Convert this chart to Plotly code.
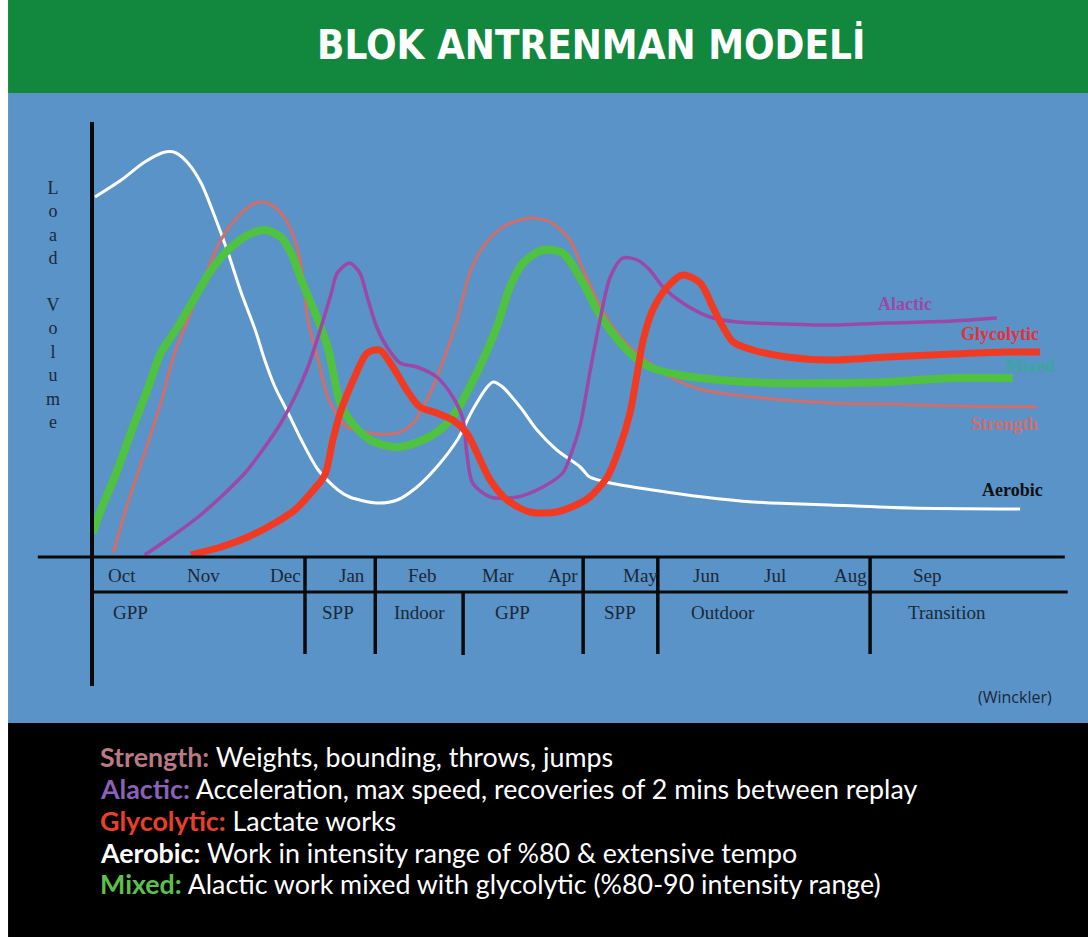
import plotly.graph_objects as go

# ---------------- data (x in months from season start, y in relative load volume) -------------
aerobic_x = [0.04, 0.40, 0.72, 1.00, 1.15, 1.31, 1.49, 1.68, 1.86, 2.04, 2.23, 2.36, 2.50, 2.68, 2.86, 3.09, 3.36,
             3.52, 3.89, 4.17, 4.44, 4.71, 4.99, 5.20, 5.40, 5.48, 5.61, 5.85, 6.08, 6.35, 6.67, 6.80, 7.08, 7.66,
             8.35, 9.03, 10.08, 11.17, 12.68]
aerobic_y = [72, 75.4, 79, 81, 80.8, 78.8, 74.8, 68, 60.8, 52.8, 45.4, 39.4, 34, 28.8, 23.4, 17.4, 13.4, 12, 10.8,
             11.4, 14, 18, 23.4, 29.4, 34, 35, 34, 30, 25.4, 21.4, 18, 16, 14.8, 13.4, 12, 11, 10.4, 9.8, 9.6]

strength_x = [0.29, 0.49, 0.72, 0.94, 1.13, 1.31, 1.54, 1.76, 1.99, 2.23, 2.40, 2.58, 2.72, 2.86, 2.95, 3.09, 3.22,
              3.33, 3.48, 3.80, 4.17, 4.39, 4.62, 4.80, 4.99, 5.16, 5.34, 5.61, 5.98, 6.26, 6.53, 6.71, 6.90, 7.08,
              7.35, 7.62, 7.90, 8.35, 9.03, 10.08, 10.86, 11.76, 12.91]
strength_y = [0.8, 10.8, 20.8, 30.8, 40.8, 47.4, 56, 63.4, 68, 70.8, 70.8, 68.8, 65.4, 58, 47.4, 39.4, 32, 28.8, 26,
              24.8, 24.8, 26.8, 32.8, 39.4, 47.4, 56.8, 62, 66, 67.8, 67, 63.4, 57.4, 51.4, 46.8, 42, 38.8, 36, 33.4,
              32, 30.8, 30.6, 30.2, 30]

mixed_x = [0.01, 0.12, 0.31, 0.53, 0.77, 0.94, 1.17, 1.41, 1.63, 1.86, 2.13, 2.36, 2.58, 2.72, 2.86, 3.05, 3.22,
           3.39, 3.52, 3.80, 4.17, 4.52, 4.80, 4.99, 5.16, 5.34, 5.53, 5.71, 5.89, 6.16, 6.43, 6.71, 6.90, 7.08,
           7.35, 7.62, 8.03, 8.58, 9.26, 10.08, 10.86, 11.76, 12.58]
mixed_y = [4.8, 9.4, 16, 24.8, 34, 40.8, 46, 52, 57.4, 61.4, 64.4, 65.4, 64, 60.8, 55.4, 48.8, 42, 30.8, 27.4, 23.4,
           22, 23.4, 26, 29.4, 34, 39.4, 46, 54, 58.8, 61.4, 60.8, 54.8, 49.4, 45.4, 40.8, 38, 36.4, 35.4, 34.8,
           34.8, 35, 35.8, 35.8]

alactic_x = [0.72, 1.08, 1.45, 1.76, 2.09, 2.36, 2.58, 2.77, 2.95, 3.13, 3.27, 3.35, 3.52, 3.66, 3.76, 3.89, 4.03,
             4.21, 4.44, 4.71, 4.93, 5.07, 5.12, 5.20, 5.44, 5.81, 6.16, 6.43, 6.53, 6.67, 6.80, 6.94, 7.08, 7.25,
             7.45, 7.62, 7.80, 8.07, 8.44, 8.81, 9.49, 10.08, 10.86, 11.76, 12.36]
alactic_y = [0.4, 4, 8, 12, 16.8, 22, 26.8, 32, 38, 46, 52.8, 56.8, 58.8, 56.8, 52, 46, 42, 38.8, 38, 36, 32, 27.4,
             20.8, 14.8, 12, 12, 14, 16.8, 20, 26.4, 36.8, 47.4, 56, 59.8, 59.4, 57.4, 54, 50.8, 48, 47, 46.6, 46.4,
             46.8, 47.2, 47.8]

glyco_x = [1.35, 1.76, 2.13, 2.50, 2.77, 2.99, 3.18, 3.29, 3.39, 3.57, 3.76, 3.93, 4.11, 4.30, 4.48, 4.71, 4.93,
           5.12, 5.26, 5.44, 5.67, 5.98, 6.35, 6.67, 6.80, 7.04, 7.21, 7.35, 7.45, 7.53, 7.66, 7.86, 8.07, 8.31,
           8.48, 8.62, 8.76, 9.03, 9.49, 10.08, 10.86, 11.76, 12.50, 12.95]
glyco_y = [0.4, 2, 4, 6.8, 9.4, 12.8, 16.4, 23.4, 28.8, 35.4, 40.8, 41.4, 38, 33.4, 30, 28.8, 27.4, 24.8, 20.8,
           15.4, 11.4, 9, 9, 10.8, 12, 16, 22, 28.8, 36.8, 43.4, 49.4, 54, 56.4, 54.8, 50, 46, 43, 41.4, 40, 39.4,
           40, 40.6, 41, 41]

months = ["Oct", "Nov", "Dec", "Jan", "Feb", "Mar", "Apr", "May", "Jun", "Jul", "Aug", "Sep"]
phases = ["GPP", "SPP", "Indoor", "GPP", "SPP", "Outdoor", "Transition"]
series_names = ["Aerobic", "Strength", "Mixed", "Alactic", "Glycolytic"]
notes = [
    ("Strength:", "Weights, bounding, throws, jumps"),
    ("Alactic:", "Acceleration, max speed, recoveries of 2 mins between replay"),
    ("Glycolytic:", "Lactate works"),
    ("Aerobic:", "Work in intensity range of %80 &amp; extensive tempo"),
    ("Mixed:", "Alactic work mixed with glycolytic (%80-90 intensity range)"),
]

# ---------------- layout / style ----------------
month_pos = [0.41, 1.52, 2.64, 3.55, 4.52, 5.55, 6.43, 7.49, 8.40, 9.33, 10.36, 11.41]
phase_pos = [0.52, 3.36, 4.48, 5.74, 7.21, 8.62, 11.68]
full_dividers = [2.91, 3.87, 6.71, 7.73, 10.63]
lower_dividers = [5.07]

styles = {
    "Aerobic": dict(color="#ffffff", width=3),
    "Strength": dict(color="#cf6e6a", width=3),
    "Mixed": dict(color="#4fc241", width=8),
    "Alactic": dict(color="#9c48a6", width=3.5),
    "Glycolytic": dict(color="#f23a22", width=7),
}
label_style = {
    "Alactic": dict(x=11.11, y=50.6, color="#9c48a6"),
    "Glycolytic": dict(x=12.40, y=44.6, color="#e8303a"),
    "Mixed": dict(x=12.81, y=38.2, color="#38a89c"),
    "Strength": dict(x=12.47, y=26.6, color="#d06e6e"),
    "Aerobic": dict(x=12.57, y=13.4, color="#111111"),
}
note_colors = ["#b97a86", "#8a62b8", "#ea3f2b", "#ffffff", "#5cc04a"]

data = {
    "Aerobic": (aerobic_x, aerobic_y),
    "Strength": (strength_x, strength_y),
    "Mixed": (mixed_x, mixed_y),
    "Alactic": (alactic_x, alactic_y),
    "Glycolytic": (glyco_x, glyco_y),
}

fig = go.Figure()
for name in series_names:
    xs, ys = data[name]
    fig.add_trace(go.Scatter(x=xs, y=ys, mode="lines", name=name,
                             line=dict(color=styles[name]["color"], width=styles[name]["width"],
                                       shape="spline", smoothing=0.8),
                             hoverinfo="skip", showlegend=False))

shapes = []
# backgrounds
shapes.append(dict(type="rect", xref="paper", yref="paper", x0=0.0074, x1=1, y0=0.9007, y1=1,
                   fillcolor="#12873e", line_width=0, layer="below"))
shapes.append(dict(type="rect", xref="paper", yref="paper", x0=0.0074, x1=1, y0=0.2284, y1=0.9007,
                   fillcolor="#5a93c7", line_width=0, layer="below"))
shapes.append(dict(type="rect", xref="paper", yref="paper", x0=0.0074, x1=1, y0=0, y1=0.2284,
                   fillcolor="#000000", line_width=0, layer="below"))
# axes structure
axis_line = dict(color="#0a0a0a", width=4)
shapes.append(dict(type="line", x0=0, x1=0, y0=-25.8, y1=87, line=axis_line, layer="above"))
shapes.append(dict(type="line", x0=-0.74, x1=13.29, y0=0, y1=0, line=dict(color="#0a0a0a", width=3), layer="above"))
shapes.append(dict(type="line", x0=0, x1=13.33, y0=-7, y1=-7, line=dict(color="#0a0a0a", width=3), layer="above"))
for d in full_dividers:
    shapes.append(dict(type="line", x0=d, x1=d, y0=0, y1=-19.4, line=dict(color="#0a0a0a", width=3.5), layer="above"))
for d in lower_dividers:
    shapes.append(dict(type="line", x0=d, x1=d, y0=-7, y1=-19.6, line=dict(color="#0a0a0a", width=3.5), layer="above"))

ann = []
serif = "Liberation Serif"
for m, p in zip(months, month_pos):
    ann.append(dict(x=p, y=-3.6, text=m, showarrow=False, font=dict(family=serif, size=19, color="#1b2838")))
for ph, p in zip(phases, phase_pos):
    ann.append(dict(x=p, y=-11, text=ph, showarrow=False, font=dict(family=serif, size=19, color="#1b2838")))
ann.append(dict(x=-0.53, y=50.5, text="<br>".join(list("Load")) + "<br><br>" + "<br>".join(list("Volume")),
                showarrow=False, font=dict(family=serif, size=18, color="#1b2838")))
for name, st in label_style.items():
    ann.append(dict(x=st["x"], y=st["y"], text="<b>%s</b>" % name, showarrow=False,
                    font=dict(family=serif, size=18, color=st["color"])))
ann.append(dict(xref="paper", yref="paper", x=0.543, y=0.953, xanchor="center", yanchor="middle",
                text="<b>BLOK ANTRENMAN MODELİ</b>", showarrow=False,
                font=dict(family="DejaVu Sans Condensed, DejaVu Sans", size=40, color="#ffffff")))
ann.append(dict(xref="paper", yref="paper", x=0.933, y=0.2561, xanchor="center", yanchor="middle",
                text="(Winckler)", showarrow=False,
                font=dict(family="Open Sans", size=16, color="#1b2838")))
note_y = [757, 789, 821, 853, 884]
for (lab, txt), col, py in zip(notes, note_colors, note_y):
    ann.append(dict(xref="paper", yref="paper", x=0.09, y=1 - py / 937, xanchor="left", yanchor="middle",
                    showarrow=False,
                    text="<b><span style='color:%s'>%s</span></b> %s" % (col, lab, txt),
                    font=dict(family="Lato", size=26.8, color="#ffffff")))

fig.update_layout(
    width=1088, height=937, margin=dict(l=0, r=0, t=0, b=0),
    paper_bgcolor="#ffffff", plot_bgcolor="rgba(0,0,0,0)",
    xaxis=dict(range=[-1.2568, 13.607], visible=False, domain=[0, 1]),
    yaxis=dict(range=[-76, 111.4], visible=False, domain=[0, 1]),
    shapes=shapes, annotations=ann,
)
fig.write_html("out.html", config={"displayModeBar": False},
               post_script="document.body.style.margin='0px';")
